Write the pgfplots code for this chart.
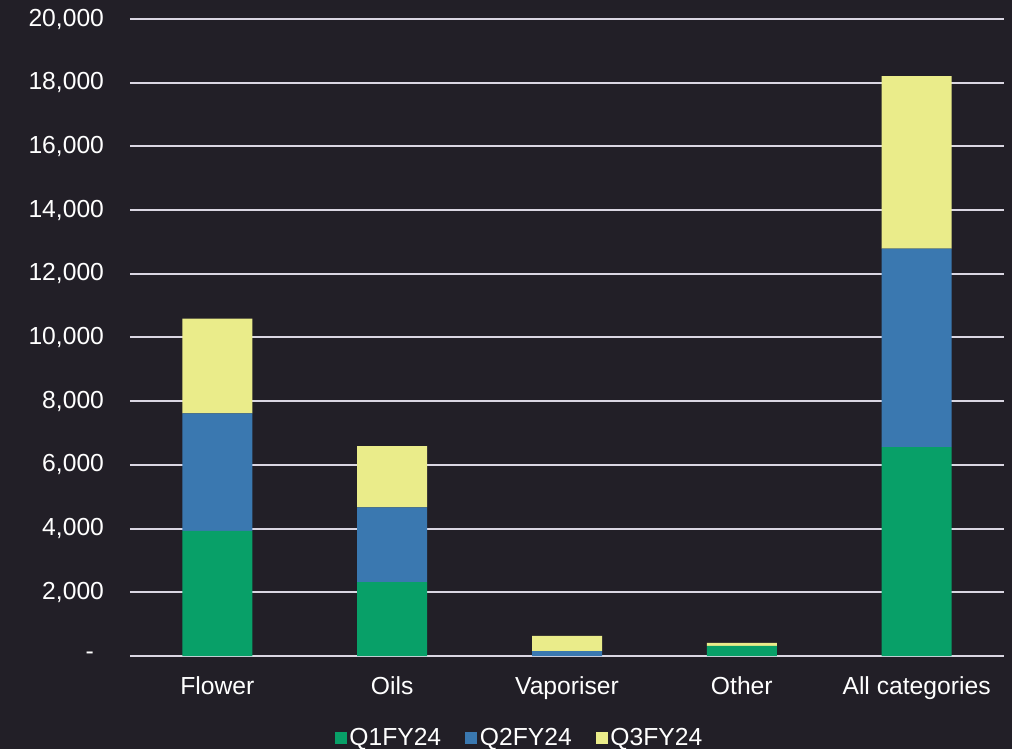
\documentclass[border=0pt]{standalone}
\usepackage{pgfplots}
\pgfplotsset{compat=1.18}
\usepackage{fontspec}
\setmainfont{Liberation Sans}
\definecolor{bg}{RGB}{34,31,39}
\definecolor{gridc}{RGB}{218,214,226}
\definecolor{qone}{RGB}{8,160,104}
\definecolor{qtwo}{RGB}{58,120,176}
\definecolor{qthree}{RGB}{234,236,138}
\begin{document}
\begin{tikzpicture}
\useasboundingbox (-97.5pt,-69.75pt) rectangle (661.5pt,492pt);
\fill[bg] (-97.5pt,-69.75pt) rectangle (661.5pt,492pt);
\begin{axis}[
  at={(0,0)}, anchor=south west,
  scale only axis,
  width=655.5pt, height=477.75pt,
  ybar stacked, bar width=52.5pt,
  xmin=-0.5, xmax=4.5,
  ymin=0, ymax=20000,
  xtick={0,1,2,3,4},
  xticklabels={Flower,Oils,Vaporiser,Other,All categories},
  ytick={0,2000,...,20000},
  yticklabels={{-\rule{7.5pt}{0pt}},{2,000},{4,000},{6,000},{8,000},{10,000},{12,000},{14,000},{16,000},{18,000},{20,000}},
  axis line style={draw=none},
  tick style={draw=none},
  ymajorgrids, grid style={gridc, line width=1.5pt},
  ticklabel style={font=\fontsize{18.5}{21}\selectfont, text=white},
  yticklabel style={xshift=-16pt, inner ysep=0pt},
  xticklabel style={yshift=-12pt},
  /pgf/number format/assume math mode=true,
  legend style={at={(0.446,-0.128)}, anchor=center, draw=none, fill=none,
    text=white, font=\fontsize{18.5}{21}\selectfont, inner sep=0pt,
    /tikz/every even column/.append style={column sep=16pt}},
  legend columns=3,
  legend image code/.code={\fill[#1] (3pt,-4.5pt) rectangle (12pt,4.5pt);},
  legend cell align=left,
]
\addplot[fill=qone, draw=none] coordinates {(0,3930) (1,2320) (2,0) (3,320) (4,6560)};
\addplot[fill=qtwo, draw=none] coordinates {(0,3690) (1,2350) (2,150) (3,0) (4,6230)};
\addplot[fill=qthree, draw=none] coordinates {(0,2970) (1,1920) (2,480) (3,90) (4,5420)};
\legend{Q1FY24,Q2FY24,Q3FY24}
\end{axis}
\end{tikzpicture}
\end{document}
